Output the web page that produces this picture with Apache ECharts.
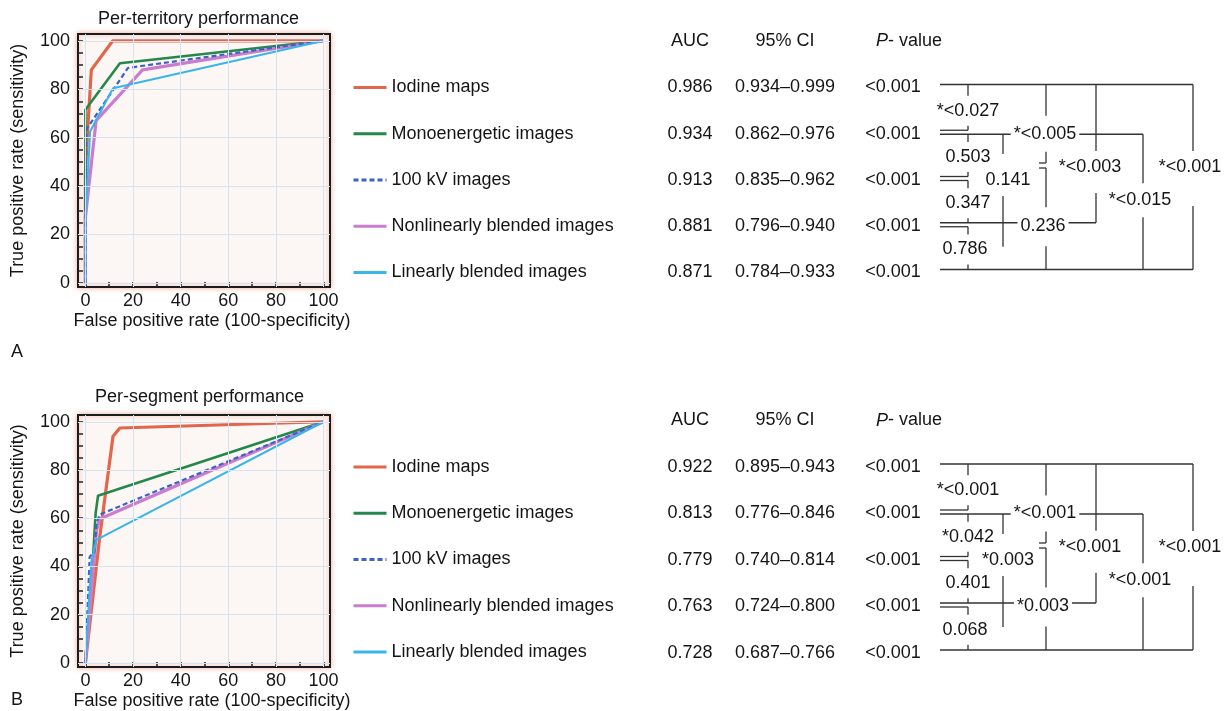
<!DOCTYPE html>
<html><head><meta charset="utf-8">
<script src="https://cdn.jsdelivr.net/npm/echarts@6/dist/echarts.min.js"></script>
<style>html,body{margin:0;padding:0;background:#fff}#c{width:1230px;height:711px}</style>
</head><body><div id="c"></div>
<script>
// ---------------- DATA ----------------
const methods = ['Iodine maps', 'Monoenergetic images', '100 kV images', 'Nonlinearly blended images', 'Linearly blended images'];

// Panel A (per-territory) ROC points [FPR, TPR]
const rocA_iodine = [[0,0],[0,45],[1,64],[2.5,88],[11.5,100],[100,100]];
const rocA_mono   = [[0,0],[0,71.5],[14.5,90.7],[100,100]];
const rocA_kv100  = [[0,0],[0,40],[0.5,63.5],[17.9,88.8],[100,100]];
const rocA_nonlin = [[0,0],[0,27],[4.5,67],[24,88],[100,100]];
const rocA_lin    = [[0,0],[0,25],[2,62.5],[11.6,80.4],[100,100]];

// Panel B (per-segment) ROC points [FPR, TPR]
const rocB_iodine = [[0,0],[6,52],[11.6,94],[14.5,97.4],[100,100]];
const rocB_mono   = [[0,0],[3.3,45],[4.3,62],[5.3,69.3],[100,100]];
const rocB_kv100  = [[0,0],[1.8,44],[3.8,46],[4.7,58],[6,61.5],[100,100]];
const rocB_nonlin = [[0,0],[4.7,55],[6,59.7],[100,100]];
const rocB_lin    = [[0,0],[2.5,42],[4.6,51],[100,100]];

// Axis tick values
const axisLabelValues = [0, 20, 40, 60, 80, 100];
const gridValues = [0, 20, 40, 60, 80, 100];
const xTickValues = [0, 10, 20, 30, 40, 50, 60, 70, 80, 90, 100];
const yTickValues = [0, 5, 10, 15, 20, 25, 30, 35, 40, 45, 50, 55, 60, 65, 70, 75, 80, 85, 90, 95, 100];

// Table values
const tableHeaders = ['AUC', '95% CI', 'P- value'];
const aucA = [0.986, 0.934, 0.913, 0.881, 0.871];
const ciA = ['0.934\u20130.999', '0.862\u20130.976', '0.835\u20130.962', '0.796\u20130.940', '0.784\u20130.933'];
const pA = ['<0.001', '<0.001', '<0.001', '<0.001', '<0.001'];
const aucB = [0.922, 0.813, 0.779, 0.763, 0.728];
const ciB = ['0.895\u20130.943', '0.776\u20130.846', '0.740\u20130.814', '0.724\u20130.800', '0.687\u20130.766'];
const pB = ['<0.001', '<0.001', '<0.001', '<0.001', '<0.001'];

// Pairwise comparisons (row indices) and their P values
const pairRows = [[0,1],[1,2],[2,3],[3,4],[0,2],[1,3],[2,4],[0,3],[1,4],[0,4]];
const pairPA = ['*<0.027', '0.503', '0.347', '0.786', '*<0.005', '0.141', '0.236', '*<0.003', '*<0.015', '*<0.001'];
const pairPB = ['*<0.001', '*0.042', '0.401', '0.068', '*<0.001', '*0.003', '*0.003', '*<0.001', '*<0.001', '*<0.001'];

// ---------------- STYLE / LAYOUT ----------------
const FONT = '"Liberation Sans", Arial, Helvetica, sans-serif';
const TXT = '#151515';
const BLINE = '#333333';
const STY = [
  {color: '#e4664a', width: 3.2, type: 'solid'},
  {color: '#23884a', width: 2.6, type: 'solid'},
  {color: '#3c62c6', width: 2.2, type: [5, 3]},
  {color: '#cc7ccc', width: 3.2, type: 'solid'},
  {color: '#39b5ea', width: 2, type: 'solid'}
];
const COL_AUC = 690, COL_CI = 785, COL_P = 893, COL_PHEAD = 876;
const BR_X0 = 940;
const BR_LEVELS = [968, 1003, 1046, 1096, 1143, 1193];
const BR_TPL = [
  {lv:0, dx:0, dy:0, gu:15, gd:15},
  {lv:0, dx:0, dy:0, gu:15, gd:15},
  {lv:0, dx:0, dy:0, gu:15, gd:15},
  {lv:0, dx:-3, dy:0, gu:15, gd:15},
  {lv:2, dx:-1, dy:0, gu:18, gd:18, endHook:-17},
  {lv:1, dx:5, dy:0, gu:26, gd:16, endExtend:24},
  {lv:2, dx:-3, dy:0, gu:19, gd:20, startHook:-12},
  {lv:3, dx:-6, dy:10, gu:16, gd:26},
  {lv:4, dx:-3, dy:-3, gu:17, gd:17},
  {lv:5, dx:-3, dy:-13, gu:16, gd:39}
];

const chart = echarts.init(document.getElementById('c'), null, {renderer: 'canvas', width: 1230, height: 711});

function plotXAxis(gi) {
  return {
    gridIndex: gi, type: 'value', min: -3.1, max: 102.7,
    name: 'False positive rate (100-specificity)', nameLocation: 'middle', nameGap: 25,
    nameTextStyle: {fontSize: 18, color: TXT, fontFamily: FONT, padding: [0, 0, 0, 16]},
    axisLine: {show: false, onZero: false},
    axisTick: {show: true, inside: true, length: 5, customValues: xTickValues, lineStyle: {color: '#222', width: 1.5}},
    axisLabel: {customValues: axisLabelValues, fontSize: 18, color: TXT, fontFamily: FONT, margin: 5},
    splitLine: {show: false}
  };
}
function plotYAxis(gi) {
  return {
    gridIndex: gi, type: 'value', min: -1.7, max: 102.8,
    name: 'True positive rate (sensitivity)', nameLocation: 'middle', nameGap: 51, nameRotate: 90,
    nameTextStyle: {fontSize: 18, color: TXT, fontFamily: FONT},
    axisLine: {show: false, onZero: false},
    axisTick: {show: true, inside: true, length: 5, customValues: yTickValues, lineStyle: {color: '#222', width: 1.5}},
    axisLabel: {customValues: axisLabelValues, fontSize: 18, color: TXT, fontFamily: FONT, margin: 8},
    splitLine: {show: false}
  };
}
function hiddenAxis(gi, isY) {
  return isY
    ? {gridIndex: gi, type: 'value', min: 0, max: 4, inverse: true, show: false}
    : {gridIndex: gi, type: 'value', min: 0, max: 1, show: false};
}
function gridLineSeries(gi) {
  return {
    type: 'line', xAxisIndex: gi, yAxisIndex: gi, data: [], silent: true, z: 1,
    markLine: {
      silent: true, symbol: ['none', 'none'], label: {show: false}, animation: false,
      lineStyle: {color: '#d6e4ef', width: 1, type: 'solid'},
      data: gridValues.map(v => ({xAxis: v})).concat(gridValues.map(v => ({yAxis: v})))
    }
  };
}
function rocSeries(name, data, k, gi) {
  return {
    type: 'line', name: name, data: data, xAxisIndex: gi, yAxisIndex: gi,
    showSymbol: false, symbol: 'none', silent: true, z: 3,
    lineStyle: {color: STY[k].color, width: STY[k].width, type: STY[k].type},
    itemStyle: {color: STY[k].color}
  };
}
function txt(x, y, s, align, extra) {
  return {type: 'text', x: x, y: y, style: Object.assign({text: s, fill: TXT, fontSize: 18, fontFamily: FONT, align: align, verticalAlign: 'middle'}, extra || {})};
}
function headerSeries(gi) {
  return {
    type: 'custom', xAxisIndex: gi, yAxisIndex: gi, silent: true, data: [[0, -1]],
    renderItem: function (params, api) {
      const y = api.coord([0, -1])[1];
      return {type: 'group', children: [
        txt(COL_AUC, y, tableHeaders[0], 'center'),
        txt(COL_CI, y, tableHeaders[1], 'center'),
        txt(COL_PHEAD, y, '{i|P}{n|- value}', 'left', {rich: {
          i: {fontStyle: 'italic', fontSize: 18, fontFamily: FONT, fill: TXT},
          n: {fontSize: 18, fontFamily: FONT, fill: TXT}
        }})
      ]};
    }
  };
}
function tableSeries(gi, auc, ci, p) {
  return {
    type: 'custom', xAxisIndex: gi, yAxisIndex: gi, silent: true,
    data: auc.map((v, i) => [0, i]),
    renderItem: function (params, api) {
      const i = params.dataIndex;
      const y = api.coord([0, i])[1];
      return {type: 'group', children: [
        txt(COL_AUC, y, auc[i].toFixed(3), 'center'),
        txt(COL_CI, y, ci[i], 'center'),
        txt(COL_P, y, p[i], 'center')
      ]};
    }
  };
}
function lineY(api, r, dir) {
  const y = api.coord([0, r])[1];
  if (r === 0 || r === 4) return y - 3;
  return dir === 'up' ? y - 3.5 : y + 0.5;
}
function seg(x1, y1, x2, y2) {
  return {type: 'line', shape: {x1: x1, y1: y1, x2: x2, y2: y2}, style: {stroke: BLINE, lineWidth: 1.3}};
}
function rowLineSeries(gi) {
  return {
    type: 'custom', xAxisIndex: gi, yAxisIndex: gi, silent: true, z: 2,
    data: methods.map((m, i) => [0, i]),
    renderItem: function (params, api) {
      const r = params.dataIndex;
      let downMax = null, upMax = null;
      pairRows.forEach((pr, k) => {
        const t = BR_TPL[k], X = BR_LEVELS[t.lv];
        if (pr[0] === r && t.startHook === undefined) downMax = Math.max(downMax || 0, X);
        if (pr[1] === r && t.endHook === undefined) upMax = Math.max(upMax || 0, X);
      });
      const ch = [];
      if (downMax !== null) { const y = lineY(api, r, 'down'); ch.push(seg(BR_X0, y, downMax, y)); }
      if (upMax !== null) { const y = lineY(api, r, 'up'); ch.push(seg(BR_X0, y, upMax, y)); }
      return {type: 'group', children: ch};
    }
  };
}
function bracketSeries(gi) {
  return {
    type: 'custom', xAxisIndex: gi, yAxisIndex: gi, silent: true, z: 2,
    data: pairRows.map(pr => [pr[0], pr[1]]),
    renderItem: function (params, api) {
      const k = params.dataIndex, pr = pairRows[k], t = BR_TPL[k], X = BR_LEVELS[t.lv];
      const ya = api.coord([0, pr[0]])[1], yb = api.coord([0, pr[1]])[1];
      const y1 = t.startHook !== undefined ? ya + t.startHook : lineY(api, pr[0], 'down');
      const y2 = t.endHook !== undefined ? yb + t.endHook : lineY(api, pr[1], 'up') + (t.endExtend || 0);
      const ly = (ya + yb) / 2 + t.dy;
      const ch = [];
      if (ly - t.gu > y1) ch.push(seg(X, y1, X, ly - t.gu));
      if (ly + t.gd < y2) ch.push(seg(X, ly + t.gd, X, y2));
      if (t.startHook !== undefined) ch.push(seg(X - 7, y1, X, y1));
      if (t.endHook !== undefined) ch.push(seg(X - 7, y2, X, y2));
      return {type: 'group', children: ch};
    }
  };
}
function bracketLabelSeries(gi, labels) {
  return {
    type: 'custom', xAxisIndex: gi, yAxisIndex: gi, silent: true, z: 4,
    data: pairRows.map(pr => [pr[0], pr[1]]),
    renderItem: function (params, api) {
      const k = params.dataIndex, pr = pairRows[k], t = BR_TPL[k], X = BR_LEVELS[t.lv];
      const ya = api.coord([0, pr[0]])[1], yb = api.coord([0, pr[1]])[1];
      const ly = (ya + yb) / 2 + t.dy;
      return txt(X + t.dx, ly, labels[k], 'center', {backgroundColor: '#ffffff', padding: [1, 3]});
    }
  };
}

const series = [
  gridLineSeries(0), gridLineSeries(1),
  rocSeries(methods[0], rocA_iodine, 0, 0),
  rocSeries(methods[1], rocA_mono, 1, 0),
  rocSeries(methods[3], rocA_nonlin, 3, 0),
  rocSeries(methods[2], rocA_kv100, 2, 0),
  rocSeries(methods[4], rocA_lin, 4, 0),
  rocSeries(methods[0], rocB_iodine, 0, 1),
  rocSeries(methods[1], rocB_mono, 1, 1),
  rocSeries(methods[3], rocB_nonlin, 3, 1),
  rocSeries(methods[2], rocB_kv100, 2, 1),
  rocSeries(methods[4], rocB_lin, 4, 1),
  headerSeries(2), tableSeries(2, aucA, ciA, pA), rowLineSeries(2), bracketSeries(2), bracketLabelSeries(2, pairPA),
  headerSeries(3), tableSeries(3, aucB, ciB, pB), rowLineSeries(3), bracketSeries(3), bracketLabelSeries(3, pairPB)
];

const legendCommon = {
  orient: 'vertical', left: 352, padding: 0, itemWidth: 33, itemHeight: 18, itemGap: 28.25,
  data: methods, selectedMode: false,
  itemStyle: {opacity: 0},
  lineStyle: {width: 3},
  textStyle: {fontSize: 18, lineHeight: 18, color: TXT, fontFamily: FONT}
};

const titleStyle = {fontSize: 18, fontWeight: 'normal', color: TXT, fontFamily: FONT};
chart.setOption({
  animation: false,
  backgroundColor: '#ffffff',
  title: [
    {text: 'Per-territory performance', left: 98, top: 10, padding: 0, textStyle: titleStyle},
    {text: 'Per-segment performance', left: 95, top: 388, padding: 0, textStyle: titleStyle},
    {text: 'A', left: 11, top: 343, padding: 0, textStyle: titleStyle},
    {text: 'B', left: 11, top: 691, padding: 0, textStyle: titleStyle}
  ],
  legend: [
    Object.assign({top: 78.5}, legendCommon),
    Object.assign({top: 458}, legendCommon)
  ],
  grid: [
    {left: 78, top: 34, width: 252, height: 253, show: true, backgroundColor: '#fcf7f5', borderColor: '#1c1c1c', borderWidth: 2, shadowColor: 'rgba(232,120,95,0.55)', shadowBlur: 5},
    {left: 78, top: 415, width: 252, height: 252, show: true, backgroundColor: '#fcf7f5', borderColor: '#1c1c1c', borderWidth: 2, shadowColor: 'rgba(232,120,95,0.55)', shadowBlur: 5},
    {left: 0, top: 87.5, width: 1230, height: 185},
    {left: 0, top: 467, width: 1230, height: 186}
  ],
  xAxis: [plotXAxis(0), plotXAxis(1), hiddenAxis(2, false), hiddenAxis(3, false)],
  yAxis: [plotYAxis(0), plotYAxis(1), hiddenAxis(2, true), hiddenAxis(3, true)],
  series: series
});
</script>
</body></html>
